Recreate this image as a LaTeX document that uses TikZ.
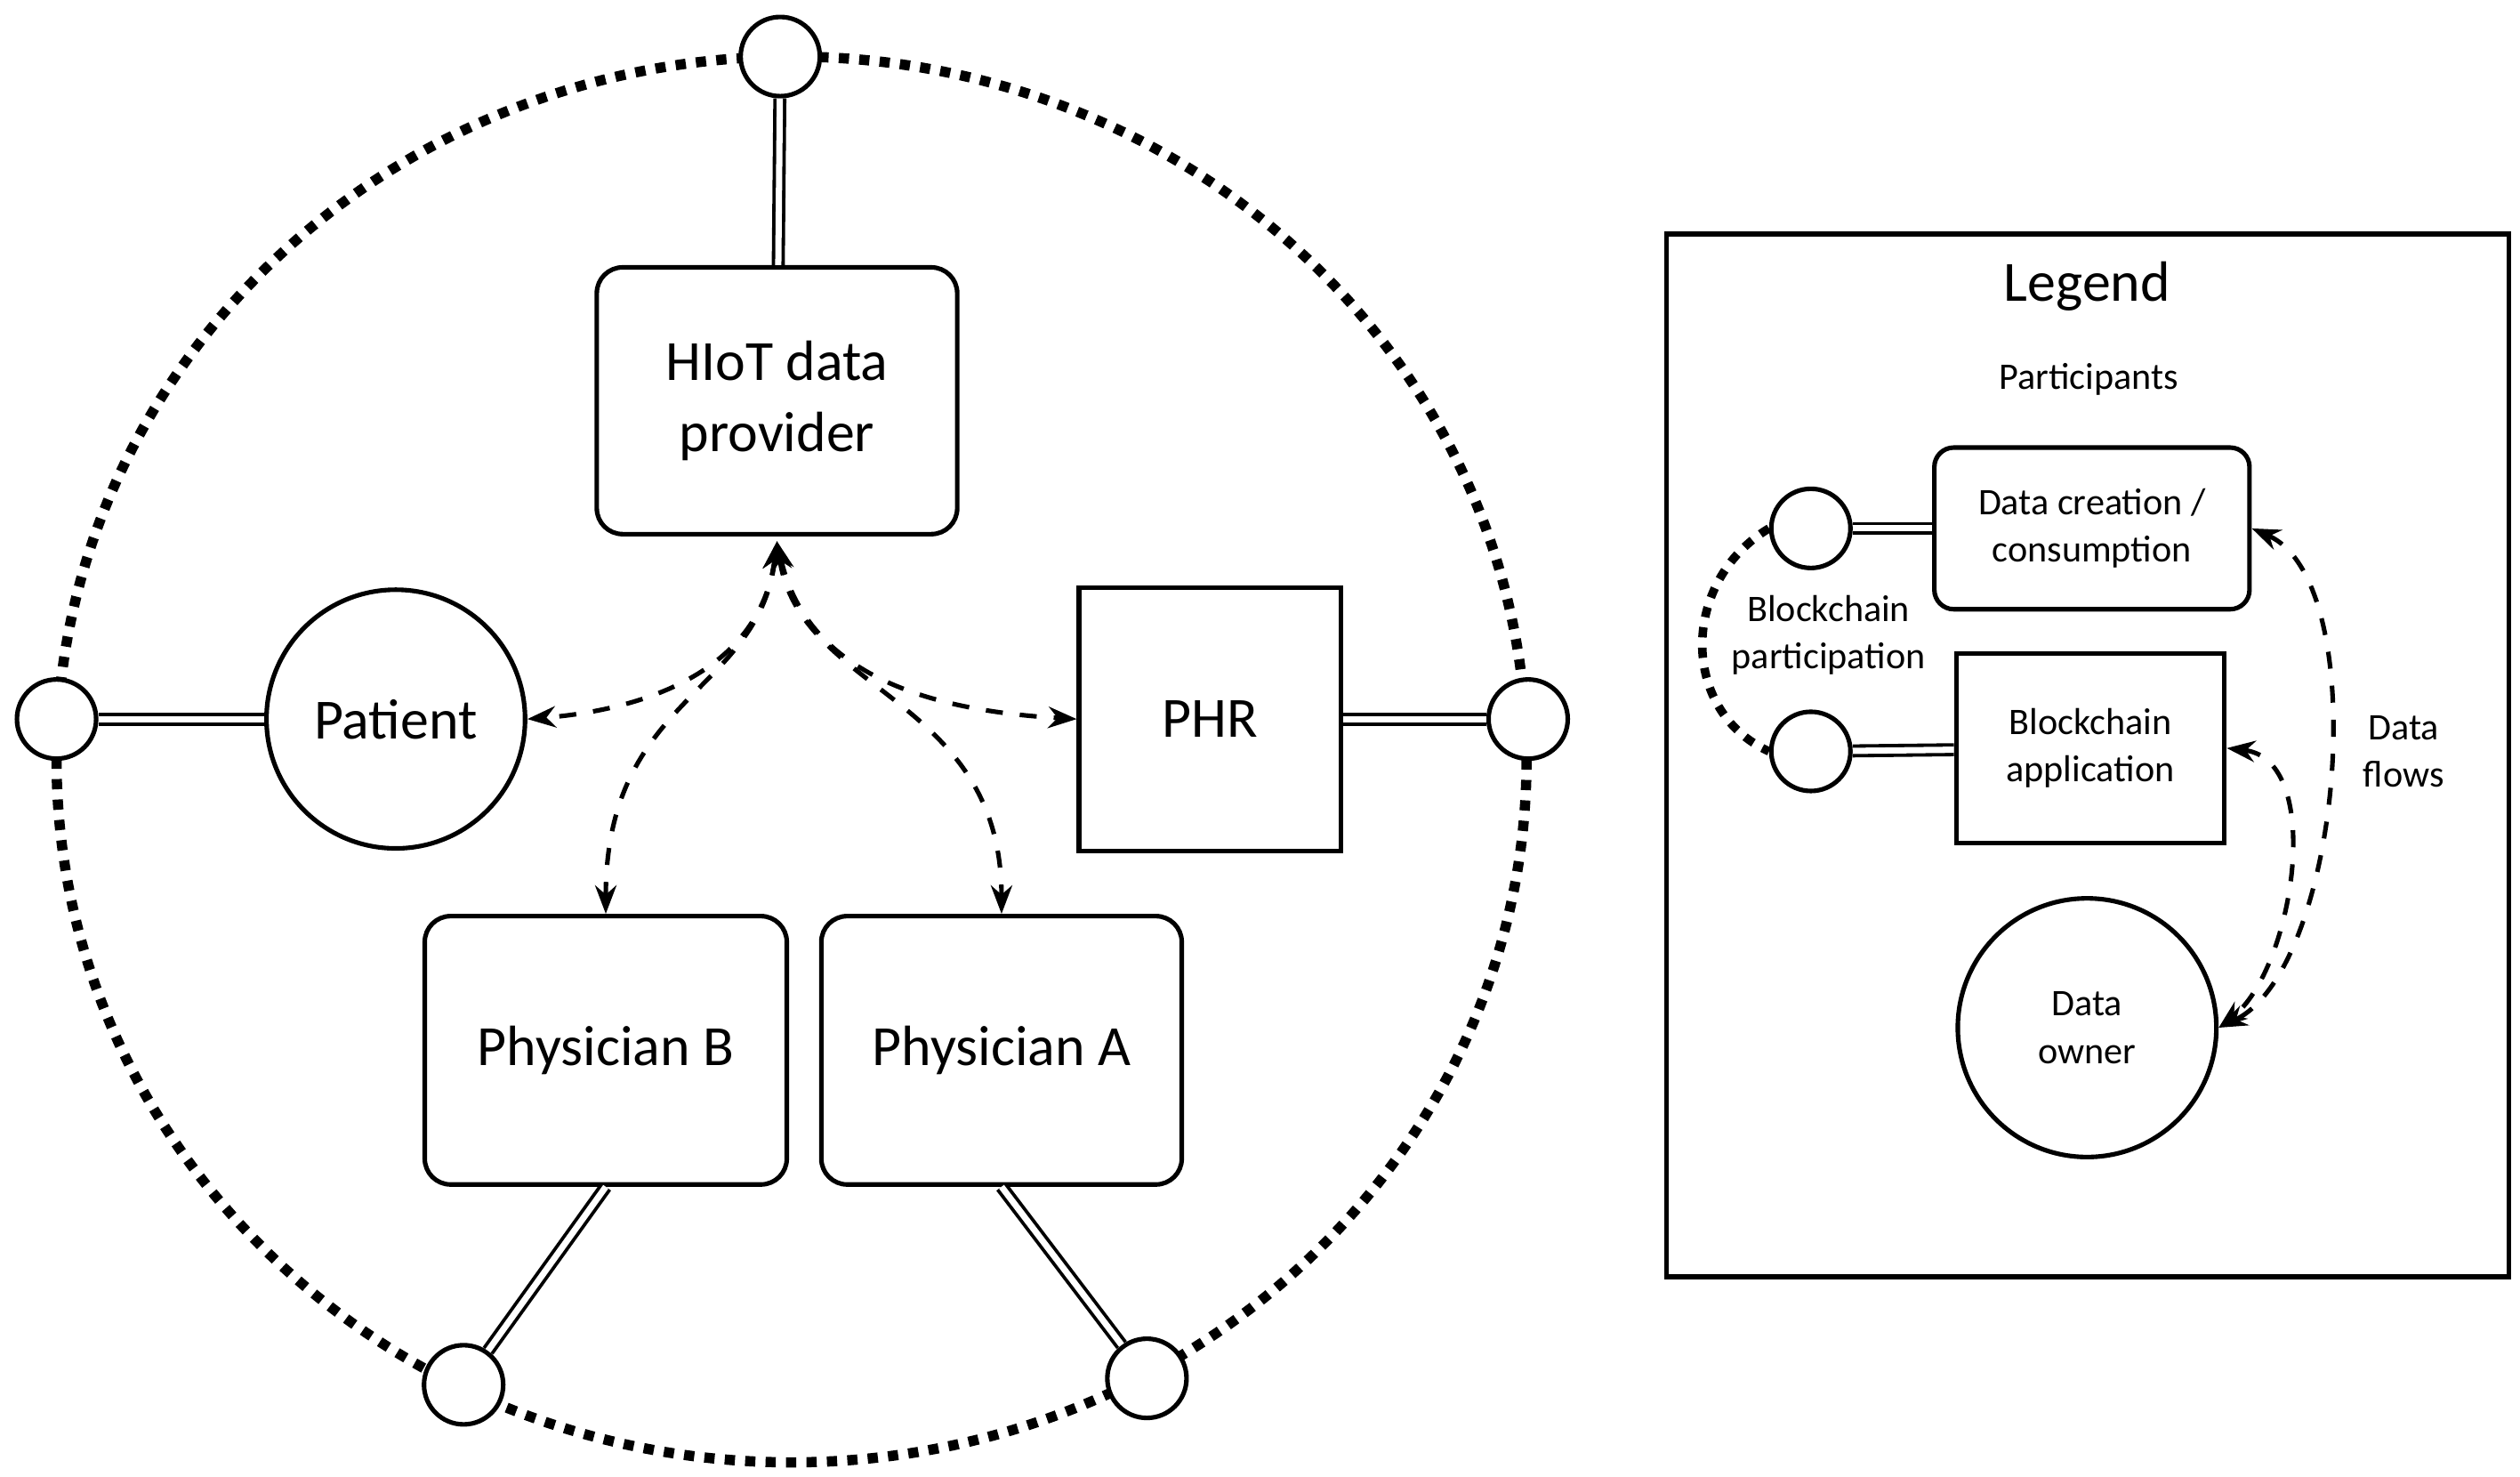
\documentclass[tikz,border=0pt]{standalone}
\usepackage{fontspec}
\setmainfont{Carlito}
\usetikzlibrary{arrows.meta}
\begin{document}
\begin{tikzpicture}[x=0.01cm,y=-0.01cm,
 big/.style={font=\fontsize{10}{12.5}\selectfont,align=center},
 small/.style={font=\fontsize{6.6}{8.4}\selectfont,align=center},
 box/.style={draw,line width=0.8pt,rounded corners=0.16cm,inner sep=0pt},
 rbox/.style={draw,line width=0.8pt,inner sep=0pt},
 circ/.style={draw,line width=0.8pt,circle,inner sep=0pt},
 port/.style={draw,fill=white,line width=0.8pt,circle,minimum size=0.49cm,inner sep=0pt},
 dbl/.style={double,double distance=1.1pt,line width=0.6pt},
 dots/.style={line width=1.8pt,dash pattern=on 1.8pt off 1.8pt},
 flow/.style={dashed,line width=0.8pt,{Stealth[length=5pt]}-{Stealth[length=5pt]}}]
\useasboundingbox (0,0) rectangle (1560,914);
% big dotted ellipse
\draw[dots] (490,470) ellipse[x radius=455,y radius=435];
% nodes
\node[box,big,minimum width=2.23cm,minimum height=1.65cm] (hiot) at (481,248) {HIoT data\\provider};
\node[circ,big,minimum size=1.6cm] (pat) at (245,445) {Patient};
\node[rbox,big,minimum width=1.62cm,minimum height=1.63cm] (phr) at (749,445) {PHR};
\node[box,big,minimum width=2.24cm,minimum height=1.66cm] (pb) at (375,650) {Physician B};
\node[box,big,minimum width=2.23cm,minimum height=1.66cm] (pa) at (620,650) {Physician A};
% ports
\node[port] (ptop) at (483,35) {};
\node[port] (pleft) at (35,445) {};
\node[port] (pright) at (946,445) {};
\node[port] (pbl) at (287,857) {};
\node[port] (pbr) at (710,853) {};
\draw[dbl] (ptop) -- (hiot);
\draw[dbl] (pleft) -- (pat);
\draw[dbl] (phr) -- (pright);
\draw[dbl] (pb.south) -- (pbl);
\draw[dbl] (pa.south) -- (pbr);
% flows
\coordinate (h) at (481,335);
\draw[flow] (h) .. controls (470,420) and (390,440) .. (pat.east);
\draw[flow] (h) .. controls (500,420) and (580,440) .. (phr.west);
\draw[flow] (h) .. controls (470,430) and (375,430) .. (pb.north);
\draw[flow] (h) .. controls (495,430) and (620,430) .. (pa.north);
% legend
\node[rbox,minimum width=5.21cm,minimum height=6.45cm] (leg) at (1292.5,467.5) {};
\node[font=\fontsize{10}{12}\selectfont] (lt) at (1292,177) {Legend};
\node[small] (lp) at (1293,235) {Participants};
\node[box,rounded corners=0.12cm,small,minimum width=1.95cm,minimum height=1.0cm] (dc) at (1295,327) {Data creation /\\consumption};
\node[rbox,small,minimum width=1.66cm,minimum height=1.17cm] (ba) at (1294,463) {Blockchain\\application};
\node[circ,small,minimum size=1.6cm] (do) at (1292,636) {Data\\owner};
\node[port] (lp1) at (1121,327) {};
\node[port] (lp2) at (1121,465) {};
\draw[dbl] (lp1) -- (dc);
\draw[dbl] (lp2) -- (ba);
\draw[dots,line width=1.5pt] (lp1.west) .. controls (1040,360) and (1040,440) .. (lp2.west);
\node[small] (bp) at (1132,393) {Blockchain\\participation};
\draw[flow] (dc.east) .. controls (1470,360) and (1450,600) .. (do.east);
\draw[flow] (ba.east) .. controls (1440,470) and (1420,600) .. (do.east);
\node[small] (df) at (1488,465) {Data\\flows};
\end{tikzpicture}
\end{document}
